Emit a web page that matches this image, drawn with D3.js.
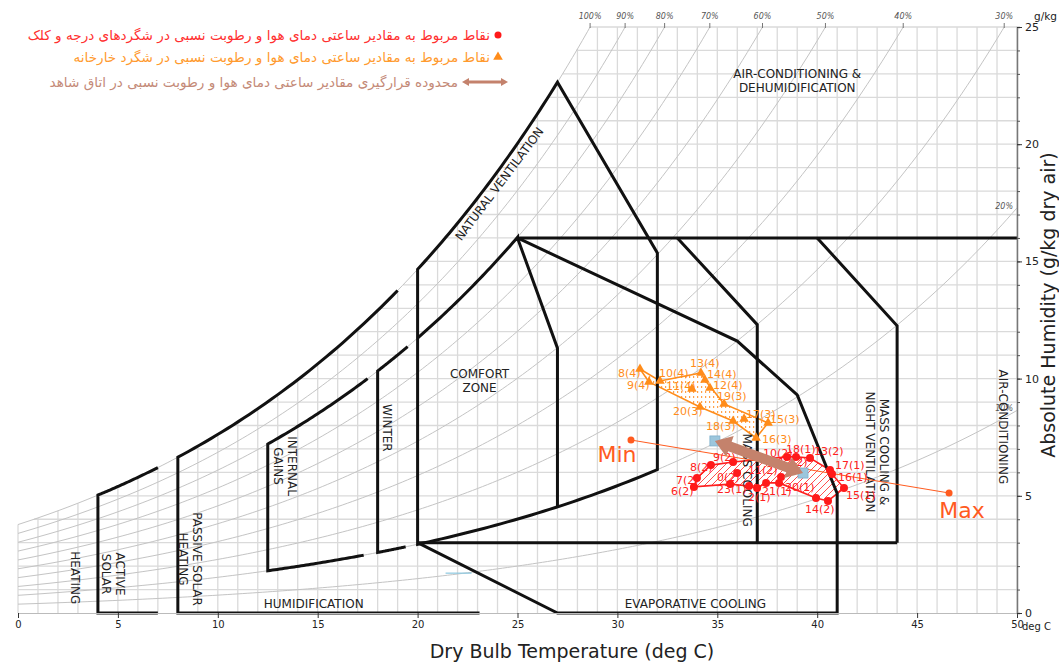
<!DOCTYPE html>
<html>
<head>
<meta charset="utf-8">
<script src="https://cdn.jsdelivr.net/npm/d3@7"></script>
<style>
body{margin:0;background:#fff;}
svg{font-family:"DejaVu Sans",sans-serif;}
</style>
</head>
<body>
<svg id="chart" width="1059" height="662"></svg>
<script>
// ---- data ----
var tempTicks = [0,5,10,15,20,25,30,35,40,45,50];
var humTicks = [0,5,10,15,20,25];
var rhLevels = [0.1,0.2,0.3,0.4,0.5,0.6,0.7,0.8,0.9,1.0];

// zone boundaries in (deg C, g/kg); ["rh", level, t0, t1] follows a relative humidity curve
var zoneLines = [
  [[7,0],[4,0],["rh",1,4,7]],
  [[23.1,0],[8,0],["rh",1,8,19]],
  [["rh",0.2,17.3,12.5],["rh",0.8,12.5,17.5]],
  [["rh",0.2,19.4,18],["rh",0.8,18,19.5]],
  [[20,3],["rh",1,20,27],[32,15.36],["rh",0.2,32,20],[20,3]],
  [["rh",0.8,20,25],[25,16],[27,11.3],["rh",0.2,27,27]],
  [[25,16],[50,16]],
  [[25,16],[36,11.6],[39,9.3],[41,5.1],[41,0],[27,0],[20,3]],
  [[20,3],[44,3]],
  [[33,16],[37,12.3],[37,3]],
  [[40,16],[44,12.25],[44,3]]
];

var zoneText = [
  {lines:["AIR-CONDITIONING &","DEHUMIDIFICATION"], t:39.0, w:22.7, rot:0},
  {lines:["NATURAL VENTILATION"], t:24.1, w:18.3, rot:-53},
  {lines:["COMFORT","ZONE"], t:23.1, w:9.9, rot:0},
  {lines:["WINTER"], t:18.47, w:7.9, rot:90},
  {lines:["INTERNAL","GAINS"], t:13.36, w:6.27, rot:90},
  {lines:["HEATING"], t:2.85, w:1.5, rot:90},
  {lines:["ACTIVE","SOLAR"], t:4.75, w:1.66, rot:90},
  {lines:["PASSIVE SOLAR","HEATING"], t:8.6, w:2.3, rot:90},
  {lines:["HUMIDIFICATION"], t:14.8, w:0.38, rot:0},
  {lines:["EVAPORATIVE COOLING"], t:33.9, w:0.38, rot:0},
  {lines:["MASS COOLING"], t:36.5, w:5.67, rot:90},
  {lines:["MASS COOLING &","NIGHT VENTILATION"], t:43.0, w:6.87, rot:90},
  {lines:["AIR-CONDITIONING"], t:49.3, w:7.94, rot:90}
];

var redNames = ["6(2)","7(2)","8(2)","9(2)","0(2)","","23(1)","2(1)","21(1)","20(1)","11(2)","12(2)","10(2)","18(1)","13(2)","17(1)","16(1)","15(1)","14(2)","14b"];
var redT = [33.83,33.98,34.68,35.79,35.99,35.64,36.59,36.99,37.44,38.09,38.19,39.14,38.49,38.94,39.64,40.64,40.74,41.34,40.54,39.94];
var redW = [5.38,5.76,6.31,6.44,5.97,5.50,5.42,5.33,5.55,5.55,5.80,6.19,6.66,6.66,6.61,6.10,5.93,5.33,4.78,4.91];
var redHull = [0,1,2,3,12,13,14,15,16,17,18,19,9,8,7,6,5];

var orangeNames = ["8(4)","9(4)","10(4)","11(4)","13(4)","14(4)","12(4)","19(3)","20(3)","18(3)","17(3)","15(3)","16(3)"];
var orangeT = [31.13,31.58,32.13,33.73,34.18,34.38,34.63,35.34,34.13,35.79,36.34,37.54,36.94];
var orangeW = [10.41,9.86,9.90,9.56,10.24,9.94,9.60,8.92,8.79,8.19,8.28,8.11,7.47];
var orangeHull = [0,2,4,5,7,11,12,9,8,1];

var extremeNames = ["Min","Max"];
var extremeT = [30.68,46.6];
var extremeW = [7.38,5.12];

var roomT = [34.88,39.29];
var roomW = [7.34,5.97];

var legendText = [
  "نقاط مربوط به مقادیر ساعتی دمای هوا و رطوبت نسبی در شگردهای درجه و کلک",
  "نقاط مربوط به مقادیر ساعتی دمای هوا و رطوبت نسبی در شگرد خارخانه",
  "محدوده قرارگیری مقادیر ساعتی دمای هوا و رطوبت نسبی در اتاق شاهد"
];

// label placement (pixels, text start and baseline relative to the mark)
var labelOff = {
  "6(2)":[-23,8],"7(2)":[-21,6],"8(2)":[-21,6],"9(2)":[-20,-1],"0(2)":[-20,8],
  "23(1)":[-32,7],"2(1)":[-9,13],"21(1)":[-4,12],"20(1)":[6,8],"11(2)":[-33,-3],
  "12(2)":[-22,-2],"10(2)":[-24,0],"18(1)":[-10,-4],"13(2)":[4,-3],"17(1)":[5,-1],
  "16(1)":[6,7],"15(1)":[2,11],"14(2)":[-23,12],
  "8(4)":[-22,8],"9(4)":[-22,7],"10(4)":[-1,-4],"11(4)":[-26,1],"13(4)":[-11,-6],
  "14(4)":[2,-2],"12(4)":[3,1],"19(3)":[-7,-4],"20(3)":[-27,8],"18(3)":[-27,9],
  "17(3)":[2,-1],"15(3)":[2,0],"16(3)":[6,5]
};

// ---- psychrometrics ----
function pws(t){ return 0.61094*Math.exp(17.625*t/(t+243.04)); }
function wSat(t){ var p = pws(t); return 622*p/(101.325-p); }
function rhW(rh,t){ return rh*wSat(t); }
function tAt(rh,w){
  var lo=-30, hi=90;
  for(var i=0;i<60;i++){ var m=(lo+hi)/2; if(rhW(rh,m)<w) lo=m; else hi=m; }
  return (lo+hi)/2;
}

var svg = d3.select("#chart");
var x = d3.scaleLinear().domain([0,50]).range([18,1017]);
var y = d3.scaleLinear().domain([0,25]).range([613,27]);
var line = d3.line().x(function(d){return x(d[0]);}).y(function(d){return y(d[1]);});

var defs = svg.append("defs");
var pr = defs.append("pattern").attr("id","hatchRed").attr("patternUnits","userSpaceOnUse")
  .attr("width",7).attr("height",7);
pr.append("rect").attr("width",7).attr("height",7).attr("fill","#ffffff");
pr.append("path").attr("d","M0,7 L7,0 M-1,1 L1,-1 M6,8 L8,6").attr("fill","none")
  .attr("stroke","#ff5050").attr("stroke-width",1);
var po = defs.append("pattern").attr("id","hatchOrange").attr("patternUnits","userSpaceOnUse")
  .attr("width",4).attr("height",5);
po.append("rect").attr("width",4).attr("height",5).attr("fill","#ffffff");
po.append("rect").attr("x",1).attr("y",1).attr("width",1.2).attr("height",2).attr("fill","#ffa14a");

// grid below saturation
var grid = svg.append("g").attr("stroke","#dadada").attr("stroke-width",1.3);
d3.range(0,51).forEach(function(t){
  grid.append("line").attr("x1",x(t)).attr("x2",x(t))
    .attr("y1",y(0)).attr("y2",y(Math.min(25,wSat(t))));
});
d3.range(1,26).forEach(function(w){
  var t0 = Math.max(0,tAt(1,w));
  grid.append("line").attr("x1",x(t0)).attr("x2",x(50)).attr("y1",y(w)).attr("y2",y(w));
});

// rh curves
rhLevels.forEach(function(rh){
  var tEnd = Math.min(50, tAt(rh,25));
  var pts = d3.range(0,tEnd,0.25).map(function(t){return [t,rhW(rh,t)];});
  pts.push([tEnd,rhW(rh,tEnd)]);
  svg.append("path").attr("d",line(pts)).attr("fill","none")
    .attr("stroke","#c4c4c4").attr("stroke-width",1);
  var lab = Math.round(rh*100)+"%";
  if(tEnd<50){
    svg.append("line").attr("x1",x(tEnd)).attr("x2",x(tEnd)).attr("y1",23).attr("y2",28)
      .attr("stroke","#777").attr("stroke-width",1);
    svg.append("text").attr("x",x(tEnd)).attr("y",19).attr("text-anchor","middle")
      .attr("font-size",8).attr("font-style","italic").attr("fill","#555").text(lab);
  } else {
    svg.append("text").attr("x",x(50)-4).attr("y",y(rhW(rh,50))+1).attr("text-anchor","end")
      .attr("font-size",8).attr("font-style","italic").attr("fill","#555").text(lab);
  }
});

// hatched areas
function ptsOf(T,W,order){ return order.map(function(i){return [T[i],W[i]];}); }
svg.append("path").attr("d",line(ptsOf(orangeT,orangeW,orangeHull))+"Z")
  .attr("fill","url(#hatchOrange)").attr("stroke","#ff8c1a").attr("stroke-width",1.6);
svg.append("path").attr("d",line(ptsOf(redT,redW,redHull))+"Z")
  .attr("fill","url(#hatchRed)").attr("stroke","#ff1f1f").attr("stroke-width",1.6);

// zone lines
function expand(seg){
  var out=[];
  seg.forEach(function(p){
    if(p[0]==="rh"){
      var n=40;
      for(var i=0;i<=n;i++){ var t=p[2]+(p[3]-p[2])*i/n; out.push([t,rhW(p[1],t)]); }
    } else out.push(p);
  });
  return out;
}
zoneLines.forEach(function(seg){
  svg.append("path").attr("d",line(expand(seg))).attr("fill","none")
    .attr("stroke","#111").attr("stroke-width",3).attr("stroke-linejoin","miter");
});

// small blue mark
svg.append("line").attr("x1",x(21.4)).attr("x2",x(22.7)).attr("y1",y(1.7)).attr("y2",y(1.7))
  .attr("stroke","#8cc8e0").attr("stroke-width",1.2);

// zone labels
zoneText.forEach(function(z){
  var n=z.lines.length;
  var tx = svg.append("text")
    .attr("transform","translate("+x(z.t)+","+y(z.w)+") rotate("+z.rot+")")
    .attr("text-anchor","middle").attr("dominant-baseline","central")
    .attr("font-size",12).attr("fill","#222");
  z.lines.forEach(function(s,i){
    tx.append("tspan").attr("x",0).attr("y",(i-(n-1)/2)*14).text(s);
  });
});

// axes
var gx = svg.append("g").attr("transform","translate(0,"+y(0)+")")
  .call(d3.axisBottom(x).tickValues(tempTicks).tickSize(5));
gx.select(".domain").attr("stroke","#bbb");
gx.selectAll("text").attr("font-size",10).attr("fill","#222").attr("font-family","DejaVu Sans");
gx.selectAll(".tick line").attr("stroke","#333");
svg.append("text").attr("x",1022).attr("y",630).attr("font-size",10).attr("fill","#222").text("deg C");

var gyMinor = svg.append("g").attr("transform","translate("+x(50)+",0)")
  .call(d3.axisRight(y).tickValues(d3.range(0,26)).tickSize(3).tickFormat(""));
gyMinor.select(".domain").attr("stroke","#777").attr("stroke-width",1.5);
gyMinor.selectAll(".tick line").attr("stroke","#555");
var gy = svg.append("g").attr("transform","translate("+x(50)+",0)")
  .call(d3.axisRight(y).tickValues(humTicks).tickSize(5));
gy.select(".domain").remove();
gy.selectAll(".tick line").attr("stroke","#333");
gy.selectAll("text").attr("font-size",11).attr("fill","#222").attr("font-family","DejaVu Sans");
svg.append("text").attr("x",1034).attr("y",20).attr("font-size",10.5).attr("fill","#222").text("g/kg");

svg.append("text").attr("x",572).attr("y",658).attr("text-anchor","middle")
  .attr("font-size",19).attr("fill","#222").text("Dry Bulb Temperature (deg C)");
svg.append("text").attr("transform","translate(1055,305) rotate(-90)").attr("text-anchor","middle")
  .attr("font-size",19).attr("fill","#222").text("Absolute Humidity (g/kg dry air)");

// min-max line
var minMax = extremeT.map(function(t,i){return [t,extremeW[i]];});
svg.append("path").attr("d",line(minMax)).attr("stroke","#ff5b1f").attr("stroke-width",1).attr("fill","none");
svg.selectAll(".ext").data(minMax).enter().append("circle")
  .attr("cx",function(d){return x(d[0]);}).attr("cy",function(d){return y(d[1]);})
  .attr("r",3.5).attr("fill","#ff5b1f");
svg.selectAll(".extLab").data(extremeNames).enter().append("text")
  .attr("x",function(d,i){return x(extremeT[i])+(i===0?-14:13);})
  .attr("y",function(d,i){return y(extremeW[i])+(i===0?22:25);})
  .attr("text-anchor","middle").attr("font-size",22).attr("fill","#ff5b1f").text(function(d){return d;});

// orange triangles
var tri = d3.symbol().type(d3.symbolTriangle).size(40);
orangeNames.forEach(function(nm,i){
  svg.append("path").attr("d",tri()).attr("transform","translate("+x(orangeT[i])+","+y(orangeW[i])+")")
    .attr("fill","#ff8c1a");
  var o = labelOff[nm];
  svg.append("text").attr("x",x(orangeT[i])+o[0]).attr("y",y(orangeW[i])+o[1])
    .attr("font-size",11).attr("fill","#ff8c1a").text(nm);
});

// red points
redNames.forEach(function(nm,i){
  var o = labelOff[nm];
  if(o) svg.append("text").attr("x",x(redT[i])+o[0]).attr("y",y(redW[i])+o[1])
    .attr("font-size",11).attr("fill","#ff2020").text(nm);
});
redNames.forEach(function(nm,i){
  if(nm==="12(2)") return;
  svg.append("circle").attr("cx",x(redT[i])).attr("cy",y(redW[i])).attr("r",4).attr("fill","#ff1a1a");
});

// room range arrow
var A=[x(roomT[0]),y(roomW[0])], B=[x(roomT[1]),y(roomW[1])];
[A,B].forEach(function(p){
  svg.append("rect").attr("x",p[0]-5).attr("y",p[1]-5).attr("width",10).attr("height",10)
    .attr("fill","#9cc6dc").attr("stroke","#7fb0cc").attr("stroke-width",0.8);
});
function arrowPoly(A,B,sw,hw,hl){
  var dx=B[0]-A[0], dy=B[1]-A[1], L=Math.hypot(dx,dy), ux=dx/L, uy=dy/L, nx=-uy, ny=ux;
  function P(base,a,b){return [base[0]+ux*a+nx*b, base[1]+uy*a+ny*b];}
  return [A,P(A,hl,hw),P(A,hl,sw),P(B,-hl,sw),P(B,-hl,hw),B,P(B,-hl,-hw),P(B,-hl,-sw),P(A,hl,-sw),P(A,hl,-hw)];
}
svg.append("path").attr("d","M"+arrowPoly(A,B,5,11,16).join("L")+"Z").attr("fill","#c4826c");

// legend
var lg = svg.append("g").attr("font-size",13.6).attr("text-anchor","end");
lg.append("circle").attr("cx",498).attr("cy",35).attr("r",3.5).attr("fill","#ff1a1a");
lg.append("text").attr("x",490).attr("y",40).attr("fill","#ff3030").text(legendText[0]);
lg.append("path").attr("d",d3.symbol().type(d3.symbolTriangle).size(40)()).attr("transform","translate(498,57)").attr("fill","#ff8c1a");
lg.append("text").attr("x",490).attr("y",62).attr("fill","#ff9a2e").text(legendText[1]);
lg.append("path").attr("d","M"+arrowPoly([462,82],[508,82],1.5,4,7).join("L")+"Z").attr("fill","#c4826c");
lg.append("text").attr("x",458).attr("y",87).attr("fill","#c48a78").text(legendText[2]);
</script>
</body>
</html>
